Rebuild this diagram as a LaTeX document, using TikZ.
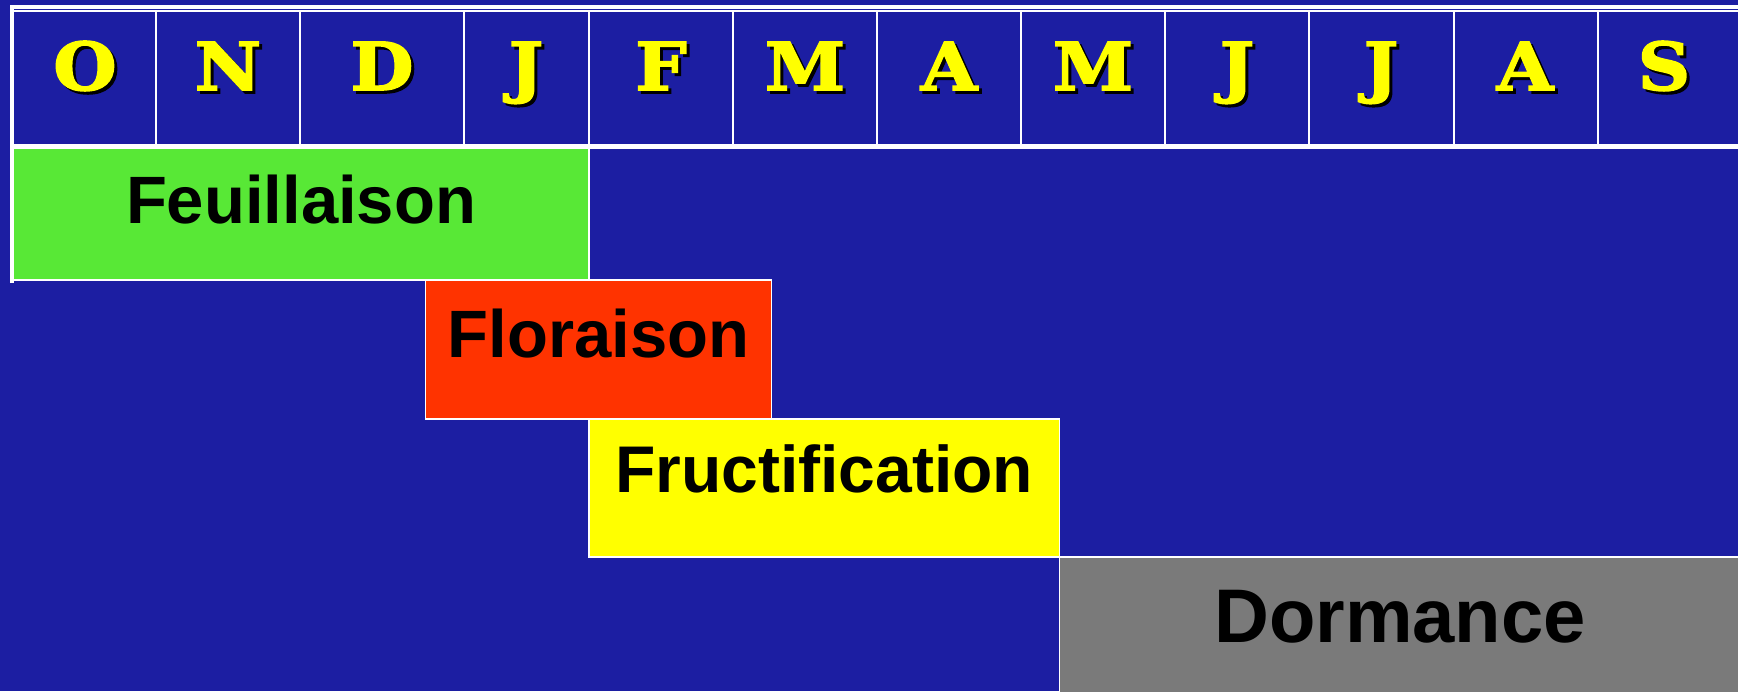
\documentclass[tikz,border=0pt]{standalone}
\usepackage{fontspec}
\newfontfamily\labfont{Liberation Sans}
\newfontfamily\monfont{DejaVu Serif}[UprightFont=* Bold, FakeBold=2.5, FakeStretch=1.1]
\definecolor{bgblue}{RGB}{28,30,162}
\definecolor{leafgreen}{RGB}{88,232,54}
\definecolor{flowerred}{RGB}{255,51,0}
\definecolor{fruityellow}{RGB}{255,255,0}
\definecolor{dormgray}{RGB}{122,122,122}
\begin{document}
\begin{tikzpicture}[x=1pt,y=-1pt,
  cell/.style={draw=white, line width=1.6pt, inner sep=0pt, outer sep=0pt, anchor=north west},
  month/.style={font=\monfont\fontsize{66}{66}\selectfont, text=fruityellow, anchor=base, inner sep=0pt},
  monthshadow/.style={month, text=black},
  phase/.style={draw=white, line width=1.6pt, inner sep=0pt, outer sep=0pt, anchor=north west},
  plabel/.style={font=\labfont\bfseries\fontsize{67}{67}\selectfont, text=black, anchor=base, inner sep=0pt}]
\fill[bgblue] (0,0) rectangle (1738,691);
\useasboundingbox (0,0) rectangle (1738,691);
% month header
\foreach \l/\a/\b/\xc [count=\i, evaluate=\a as \w using \b-\a] in
  {O/13/156/85, N/156/300/228, D/300/464/382, J/464/589/526,
   F/589/733/661, M/733/877/805, A/877/1021/949, M/1021/1165/1093,
   J/1165/1309/1237, J/1309/1454/1381, A/1454/1598/1525, S/1598/1750/1664}{
  \node[cell, minimum width=\w pt, minimum height=134pt] (c\i) at (\a,11) {};
  \node[monthshadow] (s\i) at (\xc+3,93) {\l};
  \node[month] (m\i) at (\xc,90) {\l};
}
% phases
\node[phase, fill=leafgreen, minimum width=576pt, minimum height=132pt] (feuil) at (13,148) {};
\node[plabel] (feuiltxt) at (301,223) {Feuillaison};
\node[phase, fill=flowerred, minimum width=346pt, minimum height=139pt] (flor) at (425.5,280) {};
\node[plabel] (flortxt) at (598.5,357) {Floraison};
\node[phase, fill=fruityellow, minimum width=470.5pt, minimum height=138pt] (fruct) at (589,419) {};
\node[plabel, font=\labfont\bfseries\fontsize{66}{66}\selectfont] (fructtxt) at (824,492) {Fructification};
\node[phase, fill=dormgray, minimum width=690pt, minimum height=140pt] (dorm) at (1059.5,557) {};
\node[plabel, font=\labfont\bfseries\fontsize{76}{76}\selectfont] (dormtxt) at (1400,642) {Dormance};
% outer frame lines
\draw[white, line width=4pt] (10,6.5) -- (1738,6.5);
\draw[white, line width=4pt] (12,5) -- (12,283);
\draw[white, line width=3pt] (13,147) -- (1738,147);
\end{tikzpicture}
\end{document}
